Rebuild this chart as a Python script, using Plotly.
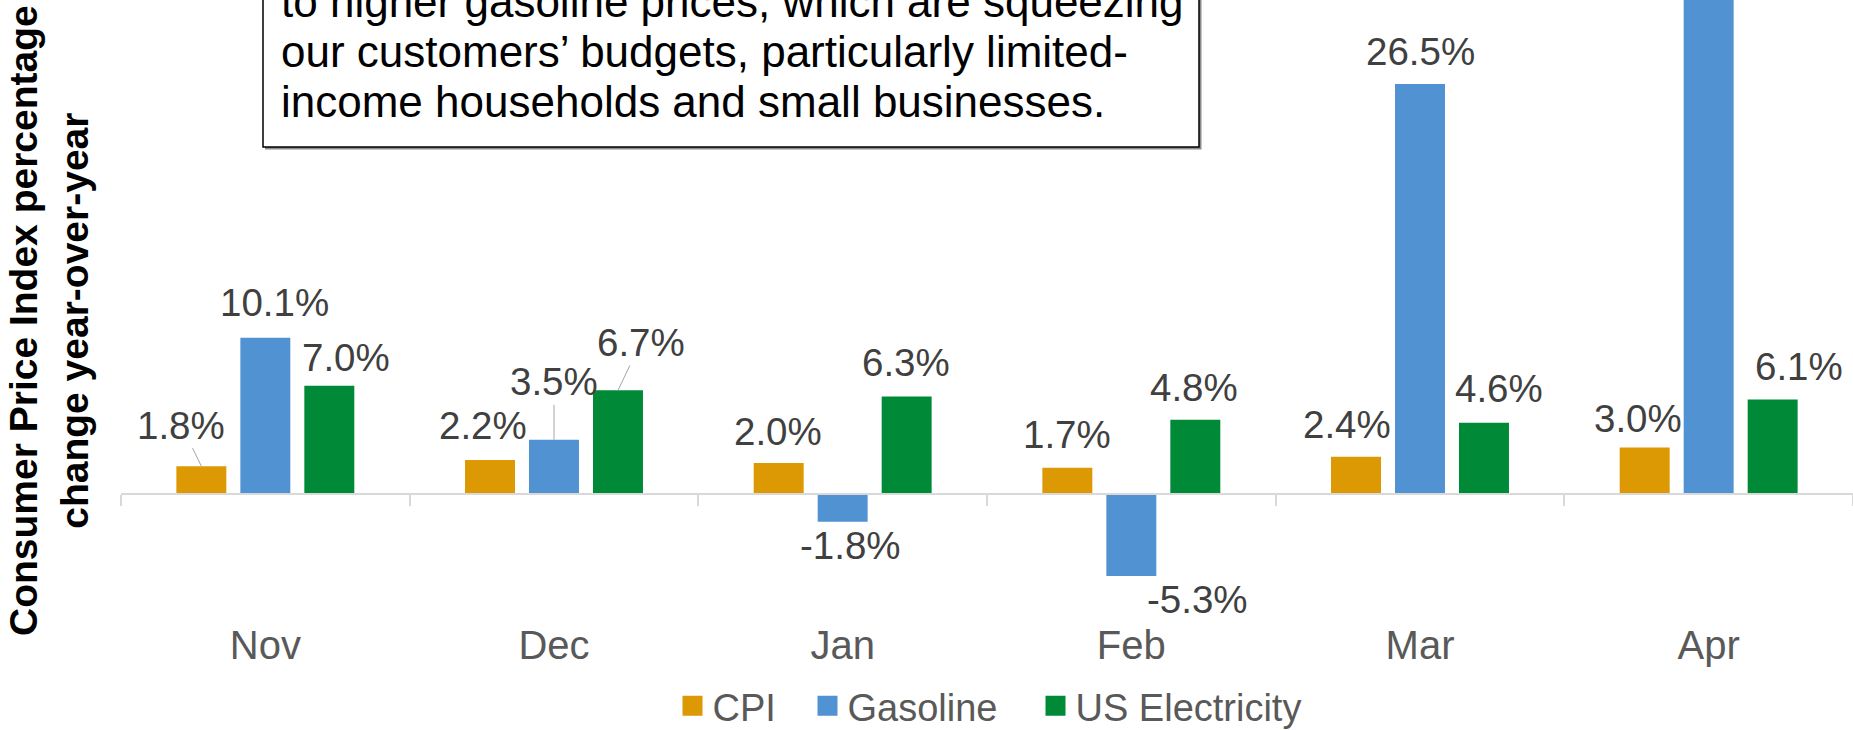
import plotly.graph_objects as go

MONTHS = ['Nov', 'Dec', 'Jan', 'Feb', 'Mar', 'Apr']
CPI = [1.8, 2.2, 2.0, 1.7, 2.4, 3.0]
GASOLINE = [10.1, 3.5, -1.8, -5.3, 26.5, 49.6]
ELECTRICITY = [7.0, 6.7, 6.3, 4.8, 4.6, 6.1]

SERIES_NAMES = ['CPI', 'Gasoline', 'US Electricity']
SERIES_VALUES = [CPI, GASOLINE, ELECTRICITY]
COLORS = ['#DD9904', '#5193D2', '#008A38']

TEXTBOX_LINES = [
    'to higher gasoline prices, which are squeezing',
    'our customers\u2019 budgets, particularly limited-',
    'income households and small businesses.',
]
Y_TITLE = 'Consumer Price Index percentage<br>change year-over-year'

# label placement: pixel offset of label centre from the bar end, and leader line flag
LABEL_POS = [
    [(-20, -41, True), (-7, -34, False), (-1, -32, False), (0, -33, False), (-9, -32, False), (-7, -29, False)],
    [(9, -35, False), (0, -58, True), (8, 24, False), (66, 24, False), (0, -33, False), (0, -33, False)],
    [(17, -28, False), (23, -48, True), (-1, -34, False), (-1, -32, False), (15, -34, False), (26, -33, False)],
]

FONT = 'Arial, Liberation Sans, sans-serif'
W, H = 1853, 730
M_L, M_B = 121, 110
BARGAP, GROUPGAP = 0.335, 0.219
Y_RANGE = [-8.145, 31.93]

plot_w = W - M_L
plot_h = H - M_B
slot = plot_w / len(MONTHS) * (1 - BARGAP) / len(SERIES_NAMES)
bar_shift = [(i - 1) * slot for i in range(len(SERIES_NAMES))]
zero_pos = -Y_RANGE[0] / (Y_RANGE[1] - Y_RANGE[0])


def px_x(px):
    return (px - M_L) / plot_w


def px_y(py):
    return 1 - py / plot_h


fig = go.Figure()
for i, (name, vals, color) in enumerate(zip(SERIES_NAMES, SERIES_VALUES, COLORS)):
    fig.add_trace(go.Bar(x=MONTHS, y=vals, name=name, showlegend=False,
                         marker=dict(color=color, line=dict(width=0))))
    # legend swatch
    lg = 'legend' if i == 0 else f'legend{i + 1}'
    fig.add_trace(go.Scatter(x=[None], y=[None], mode='markers', name=name, legend=lg,
                             marker=dict(symbol='square', size=16, color=color,
                                         line=dict(width=4, color=color))))

annotations = []
for si, vals in enumerate(SERIES_VALUES):
    for mi, v in enumerate(vals):
        dx, dy, leader = LABEL_POS[si][mi]
        txt = f'{v:.1f}%'
        if leader:
            annotations.append(dict(
                x=MONTHS[mi], y=v, text=txt, xshift=bar_shift[si], showarrow=True,
                ax=dx, ay=dy, arrowhead=0, arrowwidth=1, arrowcolor='#A6A6A6', standoff=0,
                font=dict(size=38.5, color='#404040', family=FONT)))
        else:
            annotations.append(dict(
                x=MONTHS[mi], y=v, text=txt, xshift=bar_shift[si] + dx, yshift=-dy, showarrow=False,
                xanchor='center', yanchor='middle',
                font=dict(size=38.5, color='#404040', family=FONT)))

# quote box text, one annotation per line
for k, line in enumerate(TEXTBOX_LINES):
    annotations.append(dict(
        xref='paper', yref='paper', x=px_x(279), y=px_y(1.5 + 50 * k),
        xanchor='left', yanchor='middle', text=line, showarrow=False,
        font=dict(size=44, color='#000000', family=FONT)))

# y axis title
annotations.append(dict(
    xref='paper', yref='paper', x=px_x(49), y=px_y(321),
    xanchor='center', yanchor='middle', text=f'<b>{Y_TITLE}</b>', textangle=-90,
    showarrow=False, font=dict(size=39, color='#000000', family=FONT)))

shapes = [
    dict(type='rect', xref='paper', yref='paper', layer='above',
         x0=px_x(265), x1=px_x(1201.5), y0=px_y(149.5), y1=px_y(-60),
         fillcolor='#8C8C8C', line=dict(width=0)),
    dict(type='rect', xref='paper', yref='paper', layer='above',
         x0=px_x(263), x1=px_x(1199), y0=px_y(147), y1=px_y(-60),
         fillcolor='white', line=dict(width=1.5, color='#000000')),
]

legend_style = dict(orientation='h', xref='container', yref='container', y=1 - 706 / H,
                    xanchor='left', yanchor='middle', bgcolor='rgba(0,0,0,0)',
                    font=dict(size=38, color='#595959', family=FONT))
LEGEND_SWATCH_X = [692, 827, 1055]

fig.update_layout(
    width=W, height=H,
    margin=dict(l=M_L, r=0, t=0, b=M_B),
    paper_bgcolor='white', plot_bgcolor='white',
    barmode='group', bargap=BARGAP, bargroupgap=GROUPGAP,
    legend=dict(legend_style, x=(LEGEND_SWATCH_X[0] - 19.5) / W),
    legend2=dict(legend_style, x=(LEGEND_SWATCH_X[1] - 19.5) / W),
    legend3=dict(legend_style, x=(LEGEND_SWATCH_X[2] - 19.5) / W),
    annotations=annotations,
    shapes=shapes,
)
fig.update_xaxes(
    type='category', anchor='free', position=zero_pos,
    showline=True, linecolor='#D9D9D9', linewidth=1.5,
    ticks='outside', tickson='boundaries', ticklen=11, tickcolor='#D9D9D9', tickwidth=1.5,
    ticklabelstandoff=116, tickfont=dict(size=40, color='#595959', family=FONT),
    showgrid=False, automargin=False, range=[-0.5, 5.5],
)
fig.update_yaxes(range=Y_RANGE, visible=False, showgrid=False, zeroline=False)

# page margin would offset the chart by 8px
fig.write_html('out.html', config={'displayModeBar': False},
               post_script="document.body.style.margin='0';")
